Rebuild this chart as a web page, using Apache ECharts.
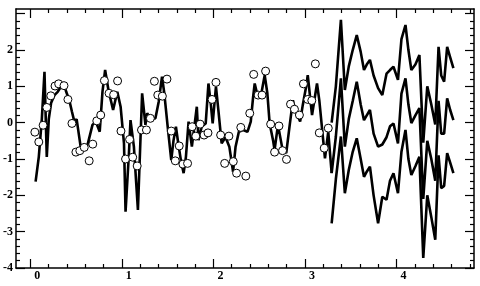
<!DOCTYPE html>
<html><head><meta charset="utf-8">
<script src="https://cdn.jsdelivr.net/npm/echarts@6/dist/echarts.min.js"></script>
<style>html,body{margin:0;padding:0;background:#fff}#c{width:480px;height:286px}</style>
</head><body><div id="c"></div>
<script>
// fitted line
const fitX = [0.059,0.094,0.127,0.156,0.181,0.203,0.228,0.265,0.300,0.336,0.373,0.393,0.427,0.456,0.482,0.507,0.553,0.588,0.626,0.680,0.716,0.759,0.789,0.818,0.854,0.905,0.951,0.987,1.024,1.041,1.078,1.095,1.132,1.176,1.222,1.258,1.277,1.312,1.367,1.403,1.439,1.464,1.501,1.540,1.564,1.591,1.618,1.645,1.675,1.700,1.729,1.765,1.819,1.837,1.873,1.916,1.946,1.971,1.992,2.028,2.054,2.090,2.133,2.174,2.215,2.242,2.278,2.325,2.372,2.408,2.434,2.451,2.480,2.524,2.560,2.589,2.614,2.651,2.668,2.705,2.752,2.795,2.831,2.868,2.893,2.947,2.976,3.012,3.030,3.077,3.131,3.156,3.218,3.254,3.291];
const fitY = [-1.62,-0.94,0.10,1.40,-0.94,0.10,0.54,0.76,0.85,0.99,1.04,0.85,0.62,0.30,0.03,0.10,-0.70,-0.65,-0.61,-0.06,0.03,-0.25,0.85,1.45,0.90,0.35,0.85,0.44,-0.57,-2.45,-0.84,0.07,-0.66,-2.40,0.81,-0.06,0.26,0.12,0.12,0.58,1.27,0.81,-0.11,-1.03,-0.50,-0.11,-0.60,-1.03,-1.39,-0.94,0.03,-0.66,0.44,-0.48,-0.10,-0.02,1.08,0.53,-0.02,0.99,0.35,-0.57,-0.40,-0.66,-1.35,-0.66,-0.25,-0.20,-0.25,0.03,0.72,1.08,0.76,0.81,1.31,0.81,-0.02,-0.48,-0.75,-0.06,-0.70,-0.84,-0.11,0.62,0.35,0.03,0.49,0.99,1.31,0.21,1.08,0.62,-0.98,-0.25,-1.39];
// observations
const obsX = [0.051,0.094,0.141,0.181,0.225,0.271,0.311,0.369,0.412,0.456,0.499,0.542,0.590,0.644,0.683,0.727,0.770,0.810,0.861,0.911,0.954,0.991,1.041,1.085,1.119,1.168,1.215,1.269,1.312,1.356,1.393,1.443,1.493,1.540,1.584,1.627,1.667,1.718,1.768,1.808,1.855,1.898,1.941,1.985,2.028,2.079,2.123,2.169,2.217,2.253,2.299,2.354,2.397,2.440,2.488,2.531,2.570,2.625,2.668,2.716,2.755,2.798,2.842,2.885,2.939,2.983,3.030,3.074,3.113,3.156,3.210,3.254];
const obsY = [-0.26,-0.53,-0.07,0.42,0.74,1.01,1.07,1.02,0.64,-0.02,-0.81,-0.77,-0.68,-1.05,-0.59,0.05,0.21,1.16,0.81,0.77,1.15,-0.23,-1.00,-0.46,-0.95,-1.19,-0.20,-0.20,0.12,1.14,0.76,0.73,1.20,-0.23,-1.05,-0.64,-1.14,-1.12,-0.11,-0.37,-0.04,-0.34,-0.28,0.64,1.11,-0.34,-1.12,-0.37,-1.07,-1.39,-0.13,-1.47,0.26,1.33,0.76,0.76,1.42,-0.04,-0.81,-0.09,-0.77,-1.01,0.51,0.37,0.21,1.07,0.64,0.61,1.62,-0.28,-0.70,-0.15];
// forecast
const fcX = [3.291,3.337,3.392,3.435,3.478,3.521,3.565,3.608,3.644,3.674,3.709,3.749,3.798,3.844,3.890,3.928,3.966,4.015,4.053,4.097,4.129,4.161,4.205,4.249,4.291,4.335,4.379,4.422,4.458,4.487,4.519,4.552,4.585,4.620];
const fcUpper = [0.00,1.00,2.83,0.90,1.55,2.00,2.41,1.95,1.45,1.60,1.73,1.30,0.95,0.76,1.35,1.45,1.54,1.18,2.30,2.69,2.00,1.45,1.60,1.86,-0.55,1.00,0.50,-0.05,2.09,1.30,1.13,2.09,1.80,1.50];
const fcMid = [-1.39,-0.38,1.22,-0.66,0.10,0.60,1.13,0.50,0.07,0.20,0.35,-0.30,-0.66,-0.60,-0.40,-0.10,-0.02,-0.57,0.80,1.22,0.50,-0.01,0.20,0.40,-2.10,-0.50,-1.00,-1.60,0.60,-0.30,-0.30,0.67,0.35,0.07];
const fcLower = [-2.77,-1.55,-0.38,-1.94,-1.30,-0.80,-0.43,-1.00,-1.49,-1.35,-1.21,-2.00,-2.77,-2.04,-2.12,-1.60,-1.39,-1.94,-0.80,-0.20,-1.00,-1.44,-1.20,-0.94,-3.72,-2.00,-2.60,-3.22,-0.90,-1.80,-1.74,-0.84,-1.10,-1.39];
// ticks
const xMajor = [0,1,2,3,4];
const xMinor = [0.2,0.4,0.6,0.8,1.2,1.4,1.6,1.8,2.2,2.4,2.6,2.8,3.2,3.4,3.6,3.8,4.2,4.4,4.6,4.8];
const yMajor = [-4,-3,-2,-1,0,1,2,3];
const yLabels = [-4,-3,-2,-1,0,1,2];
const yMinor = [-3.8,-3.6,-3.4,-3.2,-2.8,-2.6,-2.4,-2.2,-1.8,-1.6,-1.4,-1.2,-0.8,-0.6,-0.4,-0.2,0.2,0.4,0.6,0.8,1.2,1.4,1.6,1.8,2.2,2.4,2.6,2.8];

const zip = (a,b)=>a.map((v,i)=>[v,b[i]]);
const X_MIN=-0.155, X_MAX=4.845, Y_MIN=-4, Y_MAX=3.13;
const font = {fontFamily:'Liberation Serif', fontWeight:'bold', fontSize:12, color:'#000'};
function xAx(pos, major, labels){
  return {type:'value', min:X_MIN, max:X_MAX, position:pos,
    axisLine:{show:major, onZero:false, lineStyle:{color:'#000', width:1.5}},
    axisTick:{show:true, inside:true, length: major?9:4, customValues: major?xMajor:xMinor, lineStyle:{color:'#000', width:1.2}},
    axisLabel: labels ? Object.assign({show:true, customValues:xMajor, margin:2, padding:[0,0,0,14], formatter:v=>String(v)}, font) : {show:false},
    splitLine:{show:false}};
}
function yAx(pos, major, labels){
  return {type:'value', min:Y_MIN, max:Y_MAX, position:pos,
    axisLine:{show:major, onZero:false, lineStyle:{color:'#000', width:1.5}},
    axisTick:{show:true, inside:true, length: major?9:4, customValues: major?yMajor:yMinor, lineStyle:{color:'#000', width:1.2}},
    axisLabel: labels ? Object.assign({show:true, customValues:yLabels, margin:3, formatter:v=>String(v)}, font) : {show:false},
    splitLine:{show:false}};
}
const chart = echarts.init(document.getElementById('c'), null, {renderer:'canvas'});
const lineStyle = {color:'#000', width:2.6};
chart.setOption({
  animation:false,
  backgroundColor:'#fff',
  grid:{left:13, right:6, top:9, bottom:18},
  xAxis:[xAx('bottom',true,true), xAx('bottom',false,false), xAx('top',true,false), xAx('top',false,false)],
  yAxis:[yAx('left',true,true), yAx('left',false,false), yAx('right',true,false), yAx('right',false,false)],
  series:[
    {type:'line', data:zip(fitX,fitY), showSymbol:false, lineStyle, z:2},
    {type:'line', data:zip(fcX,fcUpper), showSymbol:false, lineStyle, z:2},
    {type:'line', data:zip(fcX,fcMid), showSymbol:false, lineStyle, z:2},
    {type:'line', data:zip(fcX,fcLower), showSymbol:false, lineStyle, z:2},
    {type:'scatter', data:zip(obsX,obsY), symbol:'circle', symbolSize:8,
      itemStyle:{color:'#fff', borderColor:'#000', borderWidth:1, opacity:1}, z:5}
  ]
});
</script></body></html>
